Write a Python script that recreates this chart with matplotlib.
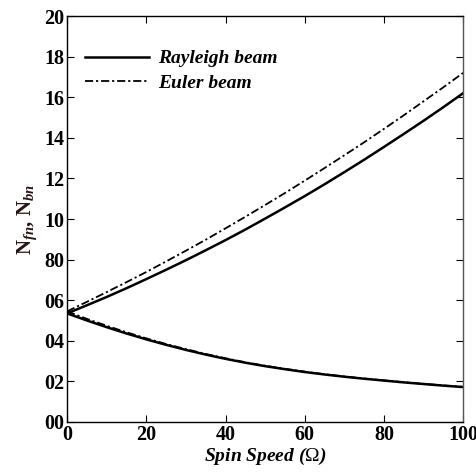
import matplotlib
matplotlib.use("Agg")
import matplotlib.pyplot as plt

# Spin speed samples
spin_speed = [0, 5, 10, 15, 20, 25, 30, 35, 40, 45, 50,
              55, 60, 65, 70, 75, 80, 85, 90, 95, 100]

# Forward / backward natural frequencies
rayleigh_forward = [5.35, 5.75, 6.16, 6.59, 7.04, 7.50, 7.97, 8.46, 8.96, 9.48, 10.02,
                    10.57, 11.13, 11.71, 12.31, 12.92, 13.55, 14.19, 14.84, 15.51, 16.20]
euler_forward = [5.45, 5.92, 6.40, 6.89, 7.39, 7.91, 8.44, 8.98, 9.54, 10.11, 10.69,
                 11.28, 11.89, 12.51, 13.14, 13.78, 14.44, 15.11, 15.80, 16.49, 17.20]
rayleigh_backward = [5.35, 5.00, 4.67, 4.36, 4.07, 3.80, 3.55, 3.32, 3.11, 2.92, 2.75,
                     2.60, 2.46, 2.34, 2.23, 2.13, 2.04, 1.95, 1.87, 1.79, 1.72]
euler_backward = [5.45, 5.08, 4.74, 4.42, 4.12, 3.84, 3.59, 3.35, 3.14, 2.94, 2.77,
                  2.62, 2.48, 2.35, 2.24, 2.14, 2.05, 1.96, 1.88, 1.80, 1.73]

x_ticks = [0, 20, 40, 60, 80, 100]
y_ticks = [0, 2, 4, 6, 8, 10, 12, 14, 16, 18, 20]
y_tick_labels = ["00", "02", "04", "06", "80", "10", "12", "14", "16", "18", "20"]

plt.rcParams["font.family"] = ["Liberation Serif", "DejaVu Serif"]
plt.rcParams["mathtext.fontset"] = "custom"
plt.rcParams["mathtext.rm"] = "Liberation Serif"
plt.rcParams["mathtext.it"] = "Liberation Serif:italic:bold"
plt.rcParams["mathtext.bf"] = "Liberation Serif:bold"

fig = plt.figure(figsize=(4.76, 4.72), dpi=100)
ax = fig.add_axes([0.141, 0.106, 0.832, 0.860])

dashdot = (0, (4.5, 1.6, 1.2, 1.6))
ax.plot(spin_speed, rayleigh_forward, color="black", lw=1.8, label="Rayleigh beam")
ax.plot(spin_speed, euler_forward, color="black", lw=1.3, linestyle=dashdot, label="Euler beam")
ax.plot(spin_speed, rayleigh_backward, color="black", lw=1.8)
ax.plot(spin_speed, euler_backward, color="black", lw=1.3, linestyle=dashdot)

ax.set_xlim(0, 100)
ax.set_ylim(0, 20)
ax.set_xticks(x_ticks)
ax.set_xticklabels([str(v) for v in x_ticks], fontsize=14.5, fontweight="bold")
ax.set_yticks(y_ticks)
ax.set_yticklabels(y_tick_labels, fontsize=14.5, fontweight="bold")
ax.tick_params(direction="in", length=5, width=0.8, top=True, right=True, pad=2)

for side in ["left", "bottom", "top"]:
    ax.spines[side].set_linewidth(1.0)
    ax.spines[side].set_color("black")
ax.spines["right"].set_linewidth(1.0)
ax.spines["right"].set_color("#555555")

ax.set_xlabel(r"Spin Speed ($\Omega$)", fontsize=14, fontstyle="italic", fontweight="bold", labelpad=1)
ax.set_ylabel(r"N$_{fn}$, N$_{bn}$", fontsize=15, fontweight="bold", color="#2a1414", labelpad=4)

leg = ax.legend(loc="upper left", bbox_to_anchor=(0.0, 0.96), frameon=False,
                handlelength=3.3, handletextpad=0.5, labelspacing=0.35,
                prop={"family": "Liberation Serif", "style": "italic", "weight": "bold", "size": 14})

fig.savefig("out.png", dpi=100)
